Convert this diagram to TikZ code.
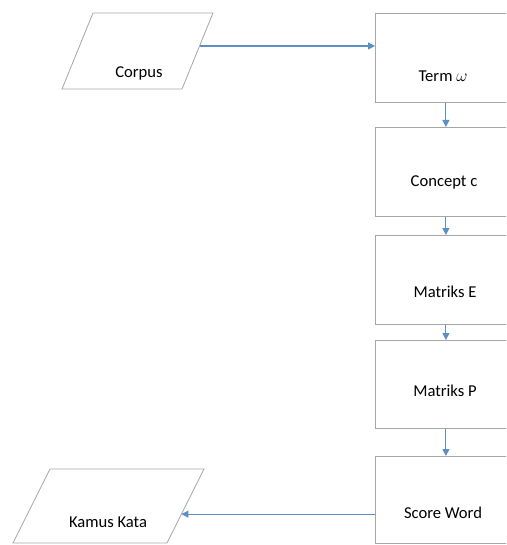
\documentclass[tikz,border=0pt]{standalone}
\usepackage{fontspec}
\setmainfont{Carlito}
\usetikzlibrary{arrows.meta,calc}
\definecolor{edgegray}{RGB}{166,166,166}
\definecolor{flowblue}{RGB}{92,144,196}
\begin{document}
\begin{tikzpicture}[x=1pt,y=-1pt,
  box/.style={draw=edgegray,line width=0.8pt,rectangle,anchor=north west,
    minimum width=141pt,minimum height=#1,inner sep=0pt},
  iopath/.style={draw=edgegray,line width=0.8pt,line join=miter},
  lbl/.style={anchor=base,inner sep=0pt,font=\fontsize{16.6}{20}\selectfont},
  arr/.style={draw=flowblue,line width=1.1pt,
    -{Triangle[length=7pt,width=7pt,fill=flowblue]}}]
\useasboundingbox (0,0) rectangle (506,545);
\begin{scope}
\clip (0,0) rectangle (506,545);
% input / output parallelograms
\coordinate (corpusTL) at (93,13);  \coordinate (corpusTR) at (213,13);
\coordinate (corpusBR) at (182,89); \coordinate (corpusBL) at (62,89);
\draw[iopath] (corpusTL) -- (corpusTR) -- (corpusBR) -- (corpusBL) -- cycle;
\coordinate (kamusTL) at (50,469);  \coordinate (kamusTR) at (204,469);
\coordinate (kamusBR) at (167,543); \coordinate (kamusBL) at (13,543);
\draw[iopath] (kamusTL) -- (kamusTR) -- (kamusBR) -- (kamusBL) -- cycle;
% processing steps
\node[box=89pt] (term) at (375,13) {};
\node[box=89pt] (concept) at (375,127) {};
\node[box=89pt] (matE) at (375,235) {};
\node[box=88pt] (matP) at (375,340) {};
\node[box=87pt] (score) at (375,456) {};
% labels
\node[lbl] (tcorpus) at (139,78) {Corpus};
\node[lbl] (tkamus) at (108,527) {Kamus Kata};
\node[lbl] (tterm) at (443,82) {Term $\omega$};
\node[lbl] (tconcept) at (444,187) {Concept c};
\node[lbl] (tmatE) at (445,297) {Matriks E};
\node[lbl] (tmatP) at (445,396) {Matriks P};
\node[lbl] (tscore) at (443,518) {Score Word};
% connectors
\coordinate (cout) at ($(corpusTR)!0.434!(corpusBR)$);
\draw[arr] (cout) -- (term.west |- cout);
\draw[arr] (term) -- (concept);
\draw[arr] (concept) -- (matE);
\draw[arr] (matE) -- (matP);
\draw[arr] (matP) -- (score);
\coordinate (kin) at ($(kamusTR)!0.61!(kamusBR)$);
\draw[arr] (score.west |- kin) -- (kin);
\end{scope}
\end{tikzpicture}
\end{document}
